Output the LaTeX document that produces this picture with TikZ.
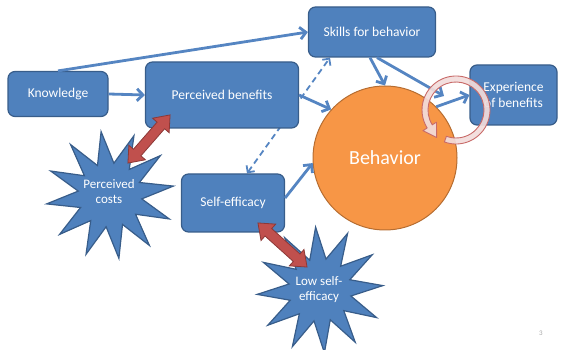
\documentclass[tikz,border=0pt]{standalone}
\usepackage{fontspec}
\setmainfont{Carlito}
\usetikzlibrary{arrows.meta,shapes.geometric,backgrounds,calc}
\definecolor{boxblue}{HTML}{4F81BD}
\definecolor{boxborder}{HTML}{385D8A}
\definecolor{lineblue}{HTML}{5585C2}
\definecolor{behorange}{HTML}{F79646}
\definecolor{behborder}{HTML}{B66D31}
\definecolor{redarrow}{HTML}{C0504D}
\definecolor{redborder}{HTML}{8C3836}
\definecolor{ringfill}{HTML}{F2DCDB}
\definecolor{ringline}{HTML}{C86A68}
\begin{document}
\begin{tikzpicture}[x=1pt,y=1pt,
  box/.style={draw=boxborder, fill=boxblue, rounded corners=7pt, line width=1.2pt,
    text=white, font=\fontsize{13.5}{16}\selectfont, align=center, inner sep=0pt},
  burst/.style={star, star points=12, star point ratio=2.0, draw=boxborder, fill=boxblue,
    line width=1.2pt, inner sep=0pt, minimum size=128},
  bursttext/.style={text=white, font=\fontsize{13}{15}\selectfont, align=center, inner sep=0pt},
  conn/.style={draw=lineblue, line width=2.8pt, -{Straight Barb[length=6pt,width=12pt]}},
  dconn/.style={draw=lineblue, line width=1.8pt, dash pattern=on 6pt off 4pt,
    {Straight Barb[length=5pt,width=10pt]}-{Straight Barb[length=5pt,width=10pt]}},
  fat/.style={fill=redarrow, draw=redborder, line width=0.8pt, line join=miter}
]
\useasboundingbox (0,0) rectangle (562,350);

% nodes
\node[box, minimum width=100, minimum height=45] (know) at (58,256) {Knowledge};
\node[box, minimum width=153, minimum height=66] (pb) at (222,255) {Perceived benefits};
\node[box, minimum width=127, minimum height=50] (skills) at (372,318) {Skills for behavior};
\node[box, minimum width=87, minimum height=60] (exp) at (513.5,255) {Experience\\of benefits};
\node[circle, draw=behborder, fill=behorange, line width=1pt, minimum size=144,
  text=white, font=\fontsize{20}{24}\selectfont] (beh) at (385,192) {Behavior};
\node[box, minimum width=103, minimum height=58] (se) at (233,147) {Self-efficacy};
\node[burst, rotate=8] (costs) at (110,155) {};
\node[bursttext] (coststext) at (109,158) {Perceived\\costs};
\node[burst, rotate=4, minimum size=126] (low) at (320,60) {};
\node[bursttext] (lowtext) at (319,60) {Low self-\\efficacy};
\node[text=gray!70, font=\fontsize{7}{8}\selectfont] (page) at (541,17) {3};

% dashed link behind Perceived benefits
\begin{pgfonlayer}{background}
\draw[dconn] ([xshift=14pt]se.north) -- ([xshift=-42pt]skills.south);
\end{pgfonlayer}

% connectors
\coordinate (skE) at (444,254);
\draw[conn] (know.north) -- (skills.west);
\draw[conn] (know.east) -- (pb.west);
\draw[conn] (pb.east) -- (beh.138);
\draw[conn] ([xshift=-2pt]skills.south) -- (beh.north);
\draw[conn] ([xshift=5pt]skills.south) -- (skE);
\draw[conn] (beh.45) -- (exp.west);
\draw[conn] ([yshift=5pt]se.east) -- (beh.184);

% fat double arrows
\begin{scope}[shift={(149,211)}, rotate=48.8]
\draw[fat] (-32,0) -- (-18,11) -- (-18,5) -- (18,5) -- (18,11) -- (32,0)
  -- (18,-11) -- (18,-5) -- (-18,-5) -- (-18,-11) -- cycle;
\end{scope}
\begin{scope}[shift={(282.5,105)}, rotate=-41.9]
\draw[fat] (-33,0) -- (-19,11) -- (-19,5) -- (19,5) -- (19,11) -- (33,0)
  -- (19,-11) -- (19,-5) -- (-19,-5) -- (-19,-11) -- cycle;
\end{scope}

% circular arrow
\coordinate (rc) at (456,240);
\filldraw[draw=ringline, fill=ringfill, fill opacity=0.92, line width=0.9pt, line join=round]
  ($(rc)+(250:34)$) arc[start angle=250, end angle=572, radius=34]
  -- ($(rc)+(572:39)$)
  -- ($(rc)+(572:31)+(662:13)$)
  -- ($(rc)+(572:23)$)
  -- ($(rc)+(572:28)$)
  arc[start angle=572, end angle=250, radius=28] -- cycle;
\end{tikzpicture}
\end{document}
